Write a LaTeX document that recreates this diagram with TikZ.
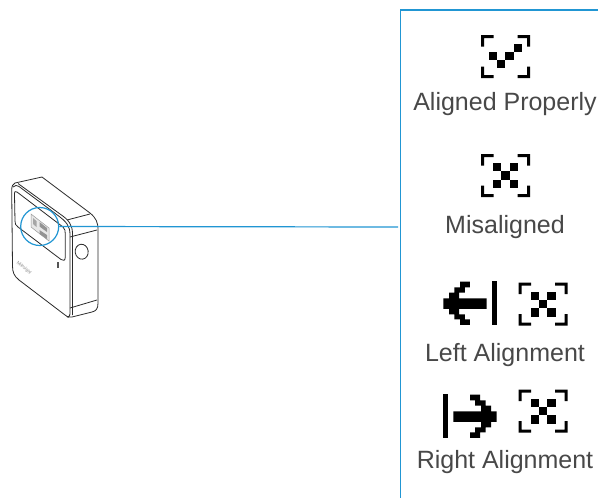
\documentclass[tikz,border=0pt]{standalone}
\usepackage{fontspec}
\setmainfont{Liberation Sans}
\definecolor{lineblue}{HTML}{2196D3}
\definecolor{labelgrey}{HTML}{484848}
\definecolor{devline}{HTML}{2A2A2A}
\tikzset{
  x=1pt,y=-1pt,
  panelline/.style={draw=lineblue,line width=1.2pt},
  label/.style={text=labelgrey,font=\fontsize{25}{27}\selectfont,inner sep=0pt,anchor=center},
  dev/.style={draw=devline,line width=0.8pt,line join=round},
  pics/corners/.style={code={
    \fill (-24.5,-10) -- (-24.5,-21.5) -- (-12,-21.5) -- (-12,-18.5) -- (-21.5,-18.5) -- (-21.5,-10) -- cycle;
    \fill (24.5,-10) -- (24.5,-21.5) -- (12,-21.5) -- (12,-18.5) -- (21.5,-18.5) -- (21.5,-10) -- cycle;
    \fill (-24.5,10) -- (-24.5,21.5) -- (-12,21.5) -- (-12,18.5) -- (-21.5,18.5) -- (-21.5,10) -- cycle;
    \fill (24.5,10) -- (24.5,21.5) -- (12,21.5) -- (12,18.5) -- (21.5,18.5) -- (21.5,10) -- cycle;
  }},
  pics/crossmark/.style={code={
    \fill (-4.2,-4.2) rectangle (4.2,4.2);
    \fill (-12.5,-12.5) rectangle (-4.2,-4.2);
    \fill (4.2,-12.5) rectangle (12.5,-4.2);
    \fill (-12.5,4.2) rectangle (-4.2,12.5);
    \fill (4.2,4.2) rectangle (12.5,12.5);
    \path pic {corners};
  }},
  pics/sidearrow/.style={code={
    \fill (75,20)--(105,20)--(105,37)--(90,37)--(90,53)--(72,53)--(72,70)--(155,70)--(155,102)--(72,102)--(72,118)--(90,118)--(90,133)--(105,133)--(105,150)--(75,150)--(75,133)--(58,133)--(58,118)--(42,118)--(42,102)--(25,102)--(25,70)--(42,70)--(42,53)--(58,53)--(58,37)--(75,37)--cycle;
    \fill (172,18) rectangle (187,150);
  }},
}
\begin{document}
\begin{tikzpicture}
\useasboundingbox (0,0) rectangle (598,498);
\fill[white] (0,0) rectangle (598,498);

% device
\draw[dev] (15,183) -- (42,177) -- (90,213) .. controls (96,218) and (98,222) .. (98,230)
   -- (98,303) .. controls (98,309) and (96,311) .. (92,312) -- (72,317)
   .. controls (69,318) and (67,317) .. (65,315) -- (19,280)
   .. controls (14,276) and (12.5,272) .. (12.5,266) -- (11.7,190) .. controls (11.7,186) and (13,184) .. (15,183) -- cycle;
\draw[dev] (13,187) .. controls (15,185) and (17,185) .. (19,186.5) -- (56,214) .. controls (67,222) and (70,226) .. (70,235) -- (70,314) .. controls (70,316) and (69,317) .. (67,317);
\draw[dev] (18,183.5) -- (60,214) .. controls (69,220) and (72.5,225) .. (72.5,234) -- (72.5,315);
\draw[dev] (67,220) -- (90,214);
\draw[dev] (70,237) -- (97,230);
\draw[dev] (70,308) -- (97,300);
\draw[dev] (17,192) -- (63,227) .. controls (65,229) and (65.3,231) .. (65.3,234) -- (65.3,257) .. controls (65.3,261) and (63,261) .. (61,259.5) -- (18,227) .. controls (15.5,225) and (15,224) .. (15,221) -- (14.5,195) .. controls (14.5,191.5) and (15,190.5) .. (17,192) -- cycle;
\draw[dev,rotate around={8:(81.7,251.7)}] (81.7,251.7) ellipse [x radius=6.5, y radius=7.5];
% display
\draw[gray!80,fill=gray!18,line width=0.5pt] (31,214) -- (49,228) -- (49,241) -- (31,227) -- cycle;
\fill[gray!85] (39.5,222) -- (47,228) -- (47,232) -- (39.5,226.5) -- cycle;
\fill[gray!85] (39.5,230) -- (47,235) -- (47,239) -- (39.5,234) -- cycle;
\fill[gray!70] (33,218) -- (36.5,221) -- (36.5,227) -- (33,224) -- cycle;
\fill[devline!80] (56.7,262) rectangle (59,268);
\node[rotate=-40,text=gray!90,font=\fontsize{4.6}{5}\selectfont,inner sep=0pt] (logo) at (24,268) {Milesight};

% lens and its connector
\node[circle,draw=lineblue,line width=1.2pt,minimum size=38pt,inner sep=0pt] (lens) at (39.7,226.5) {};
\coordinate (leaderend) at (398,227);
\draw[panelline] (lens.east) -- (leaderend);

% right panel
\coordinate (panelbottom) at (400.5,498);
\coordinate (panelcorner) at (400.5,10);
\coordinate (panelright) at (598,10);
\draw[panelline] (panelbottom) -- (panelcorner) -- (panelright);

% aligned icon
\begin{scope}[shift={(505.5,56.5)}]
  \path pic {corners};
  \fill (-16.6,-4.2) rectangle (-8.4,3.8);
  \fill (-8.4,3.8) rectangle (-0.2,11.8);
  \fill (-0.2,-4.2) rectangle (8,3.8);
  \fill (8,-12.5) rectangle (16.2,-4.2);
\end{scope}
\path (505.5,175.5) pic {crossmark};
\path (435,275) pic[x=0.3333pt,y=-0.3333pt] {sidearrow};
\path (543,304) pic {crossmark};
\path (505,388) pic[x=-0.3333pt,y=-0.3333pt] {sidearrow};
\path (543,411) pic {crossmark};

\node[label] (t1) at (505,104.5) {Aligned Properly};
\node[label] (t2) at (505,227) {Misaligned};
\node[label] (t3) at (505,355) {Left Alignment};
\node[label] (t4) at (505,462.5) {Right Alignment};
\end{tikzpicture}
\end{document}
